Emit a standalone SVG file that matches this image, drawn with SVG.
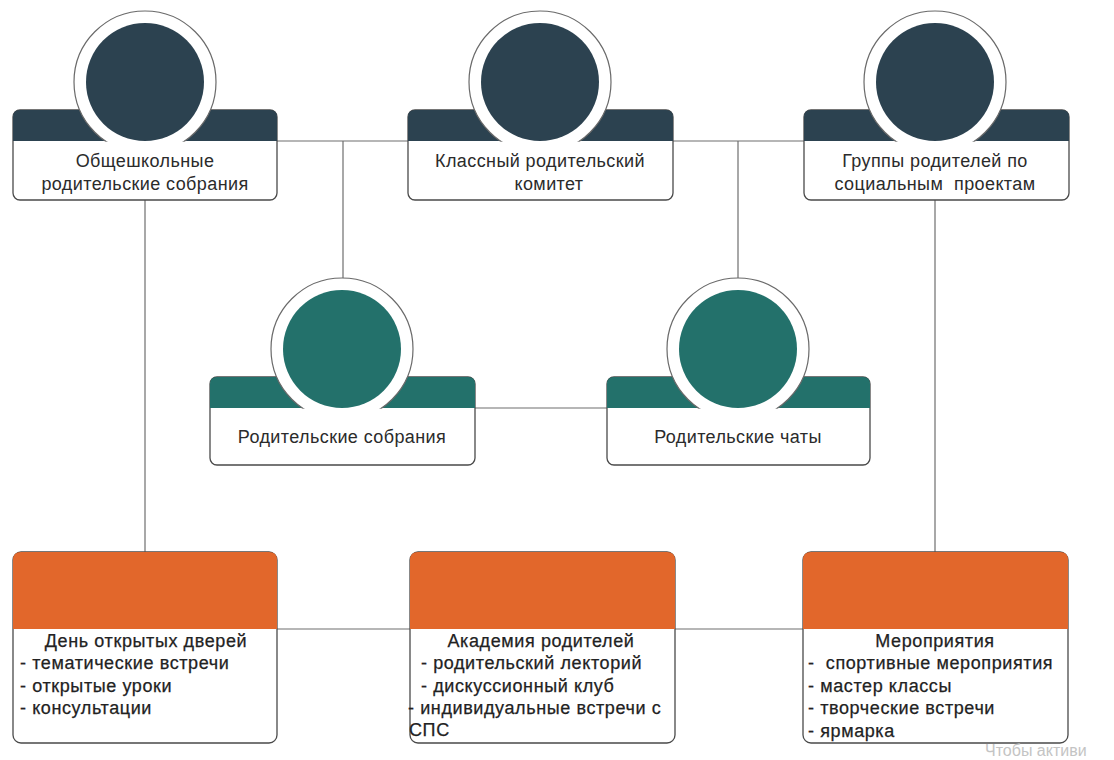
<svg xmlns="http://www.w3.org/2000/svg" width="1114" height="760" viewBox="0 0 1114 760">
<style>
.card{fill:#fff;stroke:#4a4a4a;stroke-width:1.3}
.dark{fill:#2c4250}
.teal{fill:#23716b}
.orange{fill:#e2672b}
.ring{fill:#fff;stroke:#6a6a6a;stroke-width:1.2}
.cover{fill:#fff}
.t{font-family:"Liberation Sans",Arial,sans-serif;font-size:18px;letter-spacing:0.4px;fill:#2b2b2b;white-space:pre}
.b{font-family:"Liberation Sans",Arial,sans-serif;font-size:18px;letter-spacing:0.6px;fill:#222;stroke:#222;stroke-width:0.25;white-space:pre}
.c{text-anchor:middle}
.conn{stroke:#6f6f6f;stroke-width:1.2;fill:none}
.wm{font-family:"Liberation Sans",Arial,sans-serif;font-size:16px;fill:#c4c4c4}
</style>
<rect width="1114" height="760" fill="#fff"/>
<g id="connectors">
<path class="conn" d="M277,141 H408 M673,141 H804 M343,141 V279 M738,141 V279 M475,408 H607 M145,200 V552 M935,200 V552 M277,629 H410 M675,629 H803"/>
</g>
<g id="node-obshcheshkolnye">
<rect class="card" x="13" y="110" width="264" height="90" rx="7"/>
<path class="dark" d="M13,141 V117 Q13,110 20,110 H270 Q277,110 277,117 V141 Z"/>
<circle class="ring" cx="145" cy="82" r="71"/>
<circle class="dark" cx="145" cy="82" r="59"/>
<rect class="cover" x="70" y="141.7" width="150" height="14"/>
<text class="t c" x="145" y="167">Общешкольные</text>
<text class="t c" x="145" y="190">родительские собрания</text>
</g>
<g id="node-komitet">
<rect class="card" x="408" y="110" width="265" height="90" rx="7"/>
<path class="dark" d="M408,141 V117 Q408,110 415,110 H666 Q673,110 673,117 V141 Z"/>
<circle class="ring" cx="540" cy="82" r="71"/>
<circle class="dark" cx="540" cy="82" r="59"/>
<rect class="cover" x="465" y="141.7" width="150" height="14"/>
<text class="t c" x="540" y="167">Классный родительский</text>
<text class="t c" x="549" y="190">комитет</text>
</g>
<g id="node-gruppy">
<rect class="card" x="804" y="110" width="265" height="90" rx="7"/>
<path class="dark" d="M804,141 V117 Q804,110 811,110 H1062 Q1069,110 1069,117 V141 Z"/>
<circle class="ring" cx="935" cy="82" r="71"/>
<circle class="dark" cx="935" cy="82" r="59"/>
<rect class="cover" x="860" y="141.7" width="150" height="14"/>
<text class="t c" x="935" y="167">Группы родителей по</text>
<text class="t c" x="935" y="190">социальным  проектам</text>
</g>
<g id="node-sobraniya">
<rect class="card" x="210" y="377" width="265" height="88" rx="7"/>
<path class="teal" d="M210,408 V384 Q210,377 217,377 H468 Q475,377 475,384 V408 Z"/>
<circle class="ring" cx="342" cy="349" r="71"/>
<circle class="teal" cx="342" cy="349" r="59"/>
<rect class="cover" x="267" y="408.7" width="150" height="14"/>
<text class="t c" x="342" y="443">Родительские собрания</text>
</g>
<g id="node-chaty">
<rect class="card" x="607" y="377" width="263" height="88" rx="7"/>
<path class="teal" d="M607,408 V384 Q607,377 614,377 H863 Q870,377 870,384 V408 Z"/>
<circle class="ring" cx="738" cy="349" r="71"/>
<circle class="teal" cx="738" cy="349" r="59"/>
<rect class="cover" x="663" y="408.7" width="150" height="14"/>
<text class="t c" x="738" y="443">Родительские чаты</text>
</g>
<g id="node-den">
<rect class="card" x="13" y="552" width="264" height="191" rx="8"/>
<path class="orange" d="M13,629 V560 Q13,552 21,552 H269 Q277,552 277,560 V629 Z"/>
<text class="b c" x="146" y="647">День открытых дверей</text>
<text class="b" x="20" y="669">- тематические встречи</text>
<text class="b" x="20" y="692">- открытые уроки</text>
<text class="b" x="20" y="714">- консультации</text>
</g>
<g id="node-akademiya">
<rect class="card" x="410" y="552" width="265" height="191" rx="8"/>
<path class="orange" d="M410,629 V560 Q410,552 418,552 H667 Q675,552 675,560 V629 Z"/>
<text class="b c" x="541" y="647">Академия родителей</text>
<text class="b" x="421" y="669">- родительский лекторий</text>
<text class="b" x="421" y="692">- дискуссионный клуб</text>
<text class="b" x="408" y="714">- индивидуальные встречи с</text>
<text class="b" x="409" y="736">СПС</text>
</g>
<g id="node-meropriyatiya">
<rect class="card" x="803" y="552" width="265" height="191" rx="8"/>
<path class="orange" d="M803,629 V560 Q803,552 811,552 H1060 Q1068,552 1068,560 V629 Z"/>
<text class="b c" x="935" y="647">Мероприятия</text>
<text class="b" x="808" y="669">-  спортивные мероприятия</text>
<text class="b" x="808" y="692">- мастер классы</text>
<text class="b" x="808" y="714">- творческие встречи</text>
<text class="b" x="808" y="737">- ярмарка</text>
</g>
<text class="wm" x="985" y="756">Чтобы активи</text>
</svg>
